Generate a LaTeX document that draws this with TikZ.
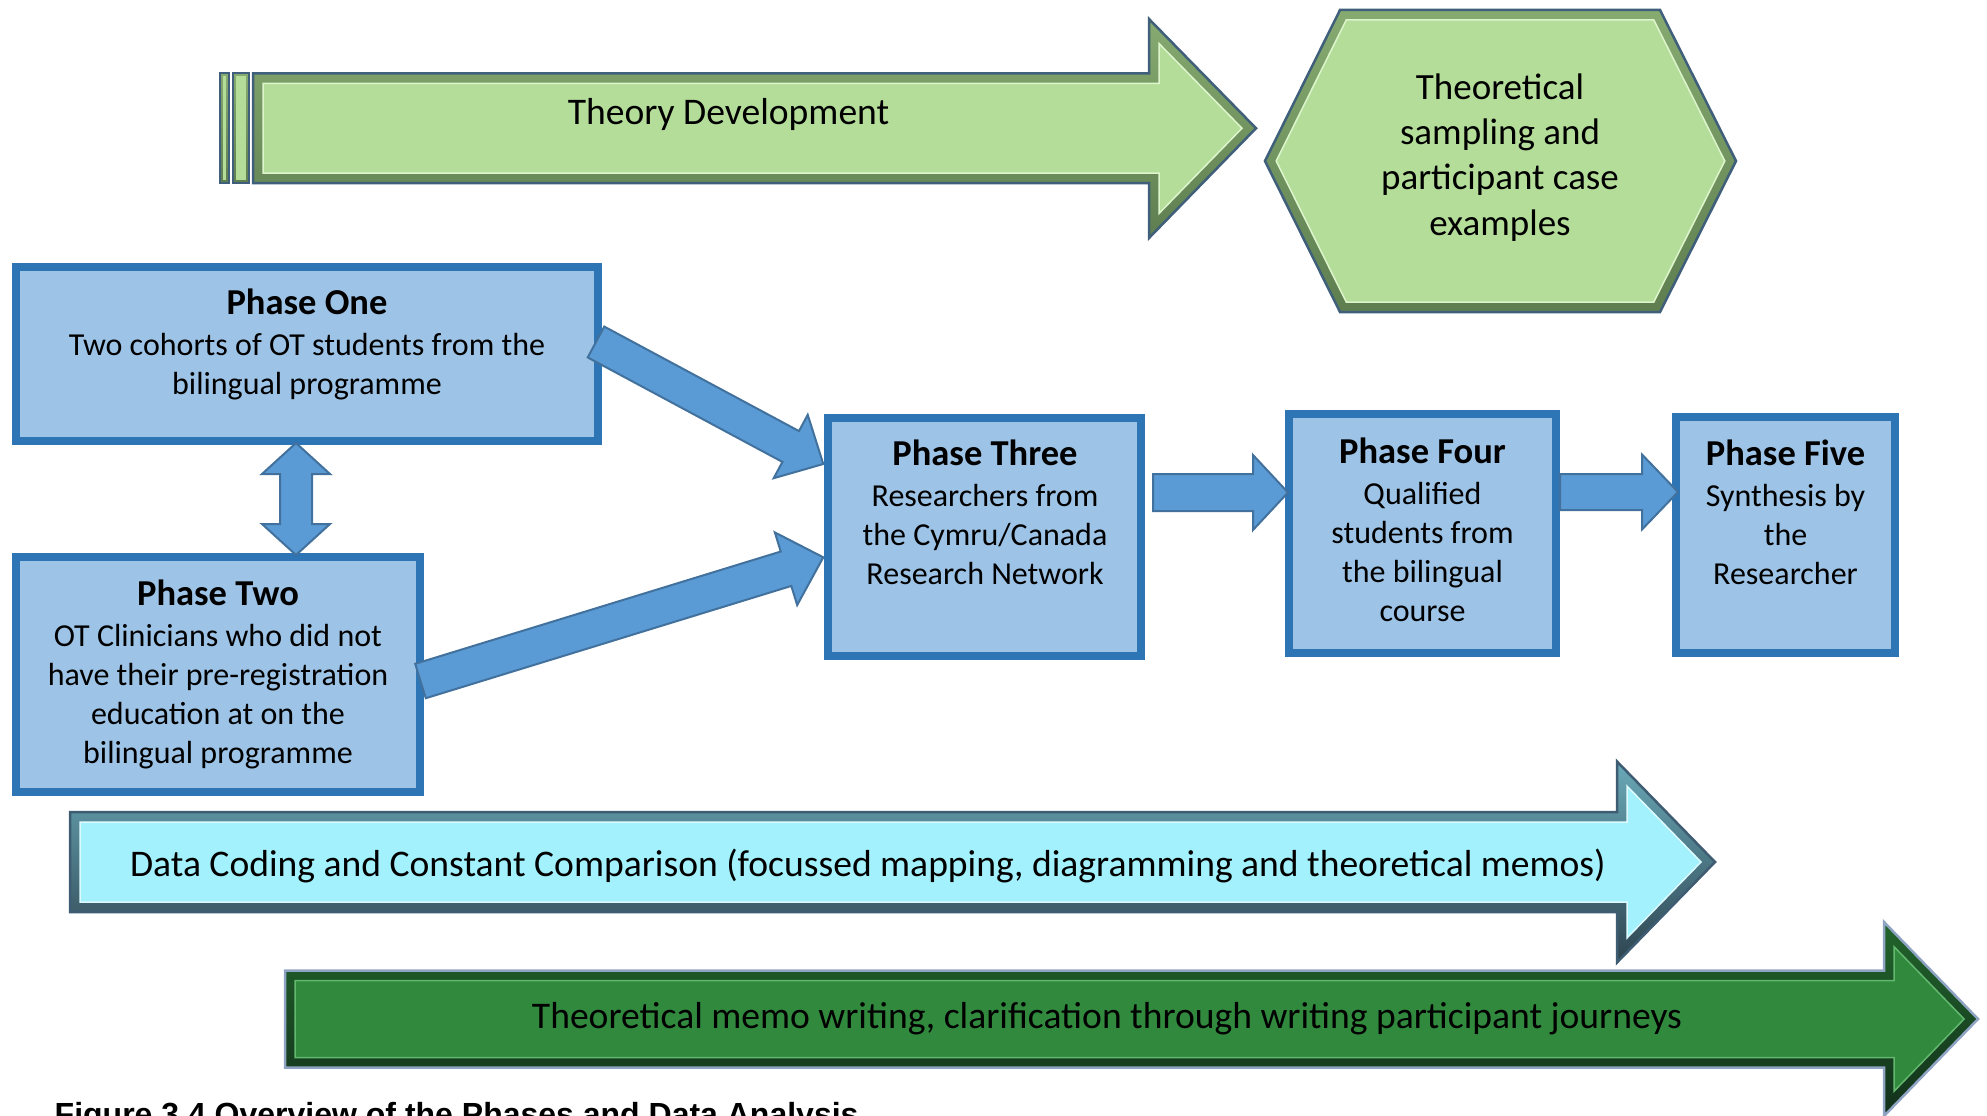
\documentclass[tikz,border=0pt]{standalone}
\usepackage{fontspec}
\setmainfont{Carlito}
\newfontfamily\capfont{Liberation Sans}
\usetikzlibrary{calc}

% phase boxes and connectors
\definecolor{boxfill}{HTML}{9DC3E6}
\definecolor{boxedge}{HTML}{2E75B6}
\definecolor{arrowfill}{HTML}{5B9BD5}
\definecolor{arrowedge}{HTML}{41719C}
% bevelled bands: light green
\definecolor{tdfill}{HTML}{B4DD9A}
\definecolor{tdtop}{HTML}{86AA70}
\definecolor{tdbot}{HTML}{5E7E50}
\definecolor{tdhi}{HTML}{DDF5CC}
\definecolor{tdedge}{HTML}{3F5F7A}
% cyan
\definecolor{dcfill}{HTML}{A3F1FD}
\definecolor{dctop}{HTML}{6AA9B8}
\definecolor{dcbot}{HTML}{2E4450}
\definecolor{dchi}{HTML}{DDFBFF}
\definecolor{dcedge}{HTML}{3E5C72}
% dark green
\definecolor{tmfill}{HTML}{31893E}
\definecolor{tmtop}{HTML}{22642C}
\definecolor{tmbot}{HTML}{12301A}
\definecolor{tmhi}{HTML}{62B86E}
\definecolor{tmedge}{HTML}{8FA3C3}

% right-pointing band arrow, inset by #9
% #2 left, #3 top, #4 bottom, #5 head base, #6 head top, #7 head bottom, #8 tip
\newcommand\bevelpath[9]{%
  \pgfmathsetmacro\bvyc{(#3+#4)/2}%
  \pgfmathsetmacro\bva{#8-#5}%
  \pgfmathsetmacro\bvb{\bvyc-#6}%
  \pgfmathsetmacro\bvl{veclen(\bva,\bvb)}%
  \pgfmathsetmacro\bvdx{#9*\bvl/\bvb}%
  \pgfmathsetmacro\bvdy{#9*(\bvb+\bvl)/\bva}%
  \path[#1] (#2+#9,#3+#9) -- (#5+#9,#3+#9) -- (#5+#9,#6+\bvdy) -- (#8-\bvdx,\bvyc)
    -- (#5+#9,#7-\bvdy) -- (#5+#9,#4-#9) -- (#2+#9,#4-#9) -- cycle;%
}
\newcommand\bevelarrow[8]{%
  \bevelpath{top color=#1top, bottom color=#1bot}{#2}{#3}{#4}{#5}{#6}{#7}{#8}{0}%
  \bevelpath{fill=#1fill}{#2}{#3}{#4}{#5}{#6}{#7}{#8}{10}%
  \bevelpath{draw=#1hi, line width=1.5pt, line join=miter}{#2}{#3}{#4}{#5}{#6}{#7}{#8}{10}%
  \bevelpath{draw=#1edge, line width=2.5pt, line join=miter}{#2}{#3}{#4}{#5}{#6}{#7}{#8}{0}%
}
% straight block arrow from #2 to #3: half shaft #4, half head #5, head length #6
\newcommand\blockarrow[6][]{%
  \coordinate (bahead) at ($(#3)!#6!(#2)$);
  \path[blockarrow,#1] ($(#2)!#4!90:(#3)$) -- ($(bahead)!#4!-90:(#2)$)
    -- ($(bahead)!#5!-90:(#2)$) -- (#3) -- ($(bahead)!#5!90:(#2)$)
    -- ($(bahead)!#4!90:(#2)$) -- ($(#2)!#4!-90:(#3)$) -- cycle;
}
\newcommand\phasetitle[1]{{\fontsize{36.5}{43}\selectfont\bfseries #1}\\[2pt]}

\tikzset{
  phasebox/.style={draw=boxedge, fill=boxfill, line width=8pt, inner sep=0pt},
  phasetext/.style={text width=600pt, align=flush center, anchor=base, inner sep=0pt,
    font=\fontsize{32}{39}\selectfont},
  bandtext/.style={anchor=base, inner sep=0pt, font=\fontsize{37.6}{45}\selectfont},
  blockarrow/.style={fill=arrowfill, draw=arrowedge, line width=2pt, line join=miter},
}

\begin{document}
\begin{tikzpicture}[x=1pt,y=-1pt]
\useasboundingbox (0,0) rectangle (1987,1116);
\clip (0,0) rectangle (1987,1116);

% ---- Theory development band ----
\foreach \l/\r in {219.5/229, 232.5/249}{
  \path[top color=tdtop, bottom color=tdbot] (\l,73.5) rectangle (\r,183);
  \fill[tdfill] (\l+3,76.5) rectangle (\r-3,180);
  \draw[tdedge, line width=2pt] (\l,73.5) rectangle (\r,183);
}
\bevelarrow{td}{253}{73.5}{183}{1149}{19}{238}{1256}
\node[bandtext] (theory) at (728.5,124) {Theory Development};

% ---- hexagon ----
\path[top color=tdtop, bottom color=tdbot]
  (1265,161) -- (1340,10) -- (1660,10) -- (1736,161) -- (1660,312) -- (1340,312) -- cycle;
\fill[tdfill]
  (1276.2,161) -- (1346.2,20) -- (1653.8,20) -- (1724.8,161) -- (1653.8,302) -- (1346.2,302) -- cycle;
\draw[tdhi, line width=1.5pt]
  (1276.2,161) -- (1346.2,20) -- (1653.8,20) -- (1724.8,161) -- (1653.8,302) -- (1346.2,302) -- cycle;
\draw[tdedge, line width=2.5pt]
  (1265,161) -- (1340,10) -- (1660,10) -- (1736,161) -- (1660,312) -- (1340,312) -- cycle;
\node[phasetext, font=\fontsize{37}{45.2}\selectfont] (hext) at (1500,99.5)
  {Theoretical\\sampling and\\participant case\\examples};

% ---- phase boxes ----
\node[phasebox, minimum width=582pt, minimum height=174pt] (p1) at (307,354) {};
\node[phasebox, minimum width=404pt, minimum height=235pt] (p2) at (218,674.5) {};
\node[phasebox, minimum width=313pt, minimum height=238pt] (p3) at (984.5,537) {};
\node[phasebox, minimum width=267pt, minimum height=239pt] (p4) at (1422.5,533.5) {};
\node[phasebox, minimum width=219pt, minimum height=236pt] (p5) at (1785.5,535) {};

\node[phasetext] (p1t) at (307,314)
  {\phasetitle{Phase One}Two cohorts of OT students from the\\bilingual programme};
\node[phasetext] (p2t) at (218,605)
  {\phasetitle{Phase Two}OT Clinicians who did not\\have their pre-registration\\education at on the\\bilingual programme};
\node[phasetext] (p3t) at (985,465)
  {\phasetitle{Phase Three}Researchers from\\the Cymru/Canada\\Research Network};
\node[phasetext] (p4t) at (1422.5,463.5)
  {\phasetitle{Phase Four}Qualified\\students from\\the bilingual\\course};
\node[phasetext] (p5t) at (1785.5,465)
  {\phasetitle{Phase Five}Synthesis by\\the\\Researcher};

% ---- connectors between phases ----
\coordinate (da) at (296,443);
\coordinate (db) at (296,555);
\draw[blockarrow] (da) -- ++(34,31) -- ++(-18,0) -- ++(0,50) -- ++(18,0) -- (db)
  -- ++(-34,-31) -- ++(18,0) -- ++(0,-50) -- ++(-18,0) -- cycle;

\coordinate (a1s) at (596,342);
\coordinate (a1e) at (823.3,464);
\blockarrow{a1s}{a1e}{17.5pt}{36pt}{37pt}
\coordinate (a2s) at (420.5,681);
\coordinate (a2e) at (823.3,557.3);
\blockarrow{a2s}{a2e}{18pt}{38pt}{39pt}
\coordinate (a3s) at (1153,492.5);
\coordinate (a3e) at (1288,492.5);
\blockarrow{a3s}{a3e}{18.5pt}{37.5pt}{35pt}
\coordinate (a4s) at (1560,492);
\coordinate (a4e) at (1678,492);
\blockarrow{a4s}{a4e}{18pt}{37.5pt}{36pt}

% ---- analysis bands ----
\bevelarrow{dc}{70}{812}{912}{1617}{761.5}{962.5}{1715}
\node[bandtext] (coding) at (868,876)
  {Data Coding and Constant Comparison (focussed mapping, diagramming and theoretical memos)};
\bevelarrow{tm}{285}{970.5}{1067.5}{1884}{922}{1116}{1978}
\node[bandtext] (memo) at (1107,1028)
  {Theoretical memo writing, clarification through writing participant journeys};

% ---- caption ----
\node[anchor=base west, inner sep=0pt, font=\capfont\bfseries\fontsize{32}{38}\selectfont]
  (cap) at (54.5,1125) {Figure 3.4 Overview of the Phases and Data Analysis};
\end{tikzpicture}
\end{document}
